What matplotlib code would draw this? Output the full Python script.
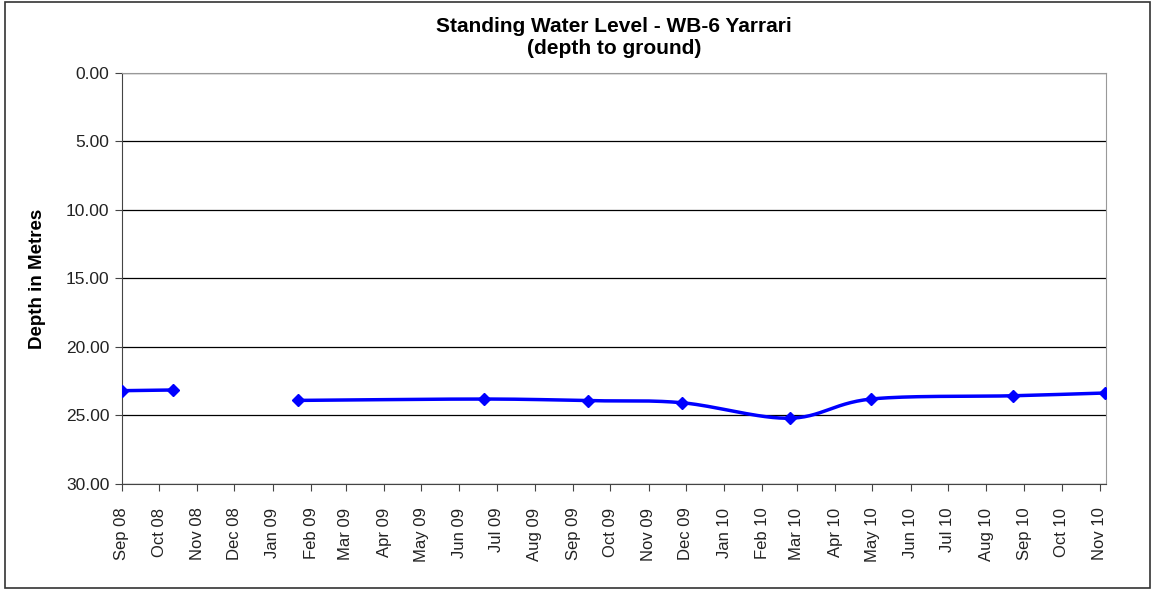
import matplotlib
matplotlib.use("Agg")
import matplotlib.pyplot as plt
import matplotlib.dates as mdates
from matplotlib.patches import Rectangle
import numpy as np
import datetime as dt

plt.rcParams['font.family'] = ['Liberation Sans', 'DejaVu Sans']

# readings: two groups separated by a gap in the record
dates_a = ["2008-09-01", "2008-10-12"]
depth_a = [23.19, 23.14]
dates_b = ["2009-01-21", "2009-06-21", "2009-09-13", "2009-11-28",
           "2010-02-23", "2010-04-30", "2010-08-23", "2010-11-05"]
depth_b = [23.90, 23.80, 23.92, 24.07, 25.20, 23.80, 23.56, 23.36]

tick_months = [dt.date(2008 + (8 + i) // 12, (8 + i) % 12 + 1, 1) for i in range(27)]


def smooth(x, y, n=30):
    # Catmull-Rom curve through the points, like Excel's smoothed line
    x = np.asarray(x, float)
    y = np.asarray(y, float)
    if len(x) < 3:
        return x, y
    px = np.concatenate([[2 * x[0] - x[1]], x, [2 * x[-1] - x[-2]]])
    py = np.concatenate([[2 * y[0] - y[1]], y, [2 * y[-1] - y[-2]]])
    xs, ys = [], []
    t = np.linspace(0, 1, n)
    for i in range(1, len(px) - 2):
        for arr, out in ((px, xs), (py, ys)):
            p0, p1, p2, p3 = arr[i - 1], arr[i], arr[i + 1], arr[i + 2]
            out.extend(0.5 * ((2 * p1) + (-p0 + p2) * t +
                              (2 * p0 - 5 * p1 + 4 * p2 - p3) * t ** 2 +
                              (-p0 + 3 * p1 - 3 * p2 + p3) * t ** 3))
    return np.array(xs), np.array(ys)


fig = plt.figure(figsize=(11.55, 5.9), dpi=100)
fig.patches.append(Rectangle((0.004, 0.004), 0.992, 0.992, transform=fig.transFigure,
                             fill=False, edgecolor='#333333', linewidth=1.2))
ax = fig.add_axes([0.1056, 0.1797, 0.852, 0.6966])

blue = '#0000FF'
for d, v in ((dates_a, depth_a), (dates_b, depth_b)):
    xn = mdates.date2num([dt.datetime.strptime(s, "%Y-%m-%d") for s in d])
    sx, sy = smooth(xn, v)
    ax.plot(sx, sy, color=blue, linewidth=2.5, zorder=3)
    ax.plot(xn, v, linestyle='none', marker='D', markersize=6.5, color=blue, zorder=4)

ax.set_ylim(30, 0)
ax.set_yticks([0, 5, 10, 15, 20, 25, 30])
ax.set_yticklabels(["%.2f" % v for v in [0, 5, 10, 15, 20, 25, 30]])
ax.set_xlim(mdates.date2num(dt.datetime(2008, 9, 1)), mdates.date2num(dt.datetime(2010, 11, 6)))
ax.set_xticks(mdates.date2num(tick_months))
ax.set_xticklabels([m.strftime("%b %y") for m in tick_months], rotation=90)
ax.yaxis.grid(True, color='black', linewidth=0.9)
ax.set_axisbelow(True)

for s in ('left', 'bottom'):
    ax.spines[s].set_color('#444444')
for s in ('top', 'right'):
    ax.spines[s].set_color('#999999')
ax.tick_params(axis='both', direction='out', length=5, color='#444444')
ax.tick_params(axis='y', labelsize=12.5, pad=4, labelcolor='#222222')
ax.tick_params(axis='x', labelsize=12, pad=12, labelcolor='#222222')

ax.set_ylabel("Depth in Metres", fontsize=13.5, fontweight='bold', labelpad=14)
ax.set_title("Standing Water Level - WB-6 Yarrari\n(depth to ground)", fontsize=15,
             fontweight='bold', pad=14, linespacing=1.15)

fig.savefig("out.png", dpi=100)
